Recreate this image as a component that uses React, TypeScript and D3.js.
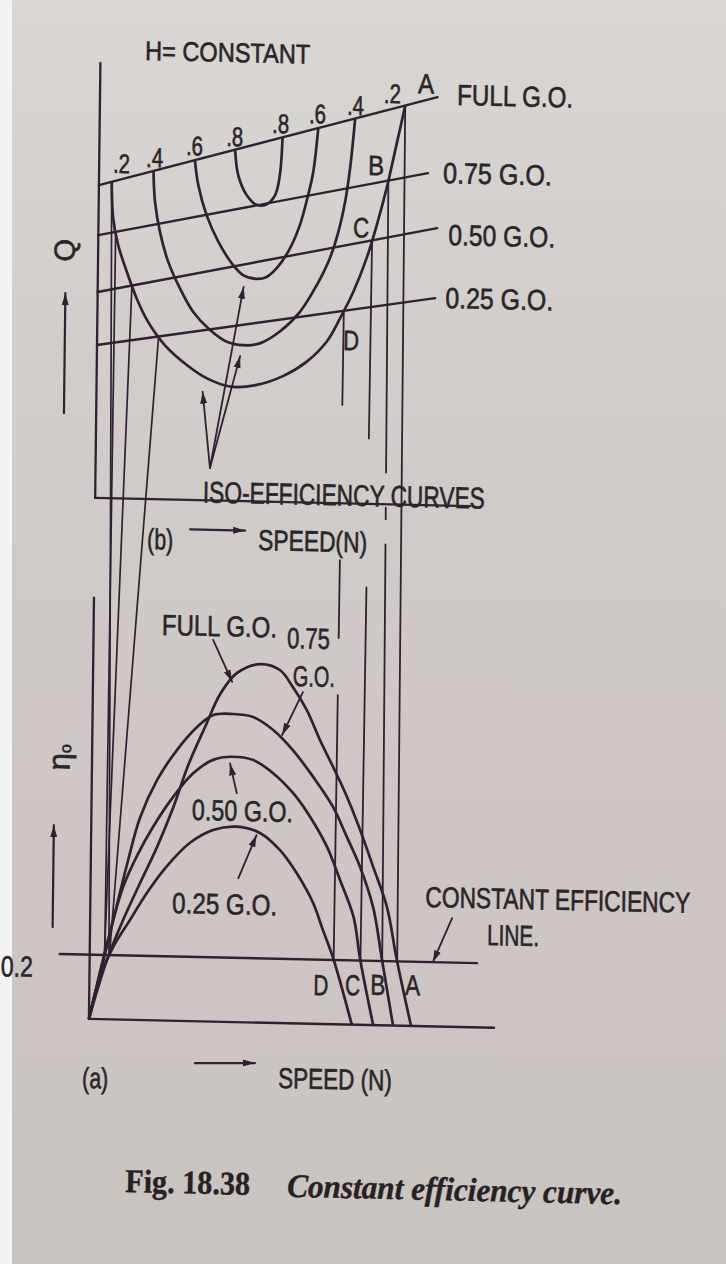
import React, { useEffect, useRef } from "react";
import * as d3 from "d3";

const W = 726;
const H = 1264;

// Lines of constant gate opening in the discharge–speed plane (Q rises with N)
const gateLabels = ["FULL G.O.", "0.75 G.O.", "0.50 G.O.", "0.25 G.O."];
const gateQStart = [7.14, 6.0, 4.7, 3.49];
const gateQEnd = [9.32, 7.58, 6.33, 4.73];
const gateNEnd = [9.0, 8.77, 9.03, 9.0];

// Iso-efficiency curves (speed N, discharge Q) at H = constant
const isoEfficiency = [0.2, 0.4, 0.6, 0.8];
const isoN = [
  [0.34, 0.39, 0.53, 0.77, 1.04, 1.35, 1.8, 2.4, 2.93, 3.56, 4.27, 4.98, 5.59, 6.12, 6.47, 6.82, 7.16, 7.42, 7.67, 7.88, 8.05, 8.14],
  [1.45, 1.5, 1.64, 1.87, 2.19, 2.55, 3.01, 3.46, 3.9, 4.34, 4.87, 5.4, 5.84, 6.18, 6.4, 6.57, 6.69, 6.81],
  [2.55, 2.65, 2.88, 3.2, 3.57, 3.87, 4.24, 4.5, 4.8, 5.11, 5.37, 5.58, 5.71, 5.83],
  [3.62, 3.71, 3.94, 4.21, 4.48, 4.7, 4.82, 4.88],
];
const isoQ = [
  [7.22, 6.39, 5.79, 5.18, 4.58, 4.05, 3.53, 3.08, 2.79, 2.61, 2.66, 2.88, 3.21, 3.68, 4.22, 4.84, 5.61, 6.37, 7.21, 8.05, 8.74, 9.11],
  [7.49, 6.79, 6.11, 5.43, 4.83, 4.3, 3.89, 3.63, 3.56, 3.61, 3.89, 4.35, 4.97, 5.59, 6.2, 6.89, 7.65, 8.79],
  [7.76, 7.19, 6.51, 5.91, 5.42, 5.16, 5.08, 5.13, 5.37, 5.79, 6.33, 7.02, 7.55, 8.55],
  [8.02, 7.44, 6.99, 6.77, 6.79, 7.0, 7.46, 8.32],
];

// Overall efficiency against speed for each gate opening (FULL, 0.75, 0.50, 0.25)
const etaN = [
  [0, 0.46, 0.88, 1.32, 1.76, 2.17, 2.58, 3.0, 3.4, 3.84, 4.45, 4.98, 5.33, 5.71, 6.07, 6.43, 6.81, 7.17, 7.53, 7.91, 8.18, 8.59],
  [0, 0.5, 0.95, 1.3, 1.74, 2.26, 2.79, 3.21, 3.74, 4.28, 4.82, 5.35, 5.9, 6.44, 6.82, 7.18, 7.54, 7.8, 8.11],
  [0, 0.53, 0.87, 1.22, 1.65, 2.18, 2.7, 3.23, 3.72, 4.3, 4.84, 5.38, 5.83, 6.29, 6.65, 7.02, 7.21, 7.58],
  [0, 0.28, 0.62, 1.06, 1.5, 2.02, 2.63, 3.25, 3.87, 4.5, 5.04, 5.49, 5.94, 6.21, 6.48, 7.01],
];
const etaValues = [
  [0, 0.184, 0.31, 0.426, 0.539, 0.66, 0.8, 0.915, 1.02, 1.086, 1.115, 1.098, 1.046, 0.975, 0.883, 0.8, 0.708, 0.606, 0.492, 0.368, 0.21, 0],
  [0, 0.25, 0.475, 0.63, 0.747, 0.842, 0.915, 0.953, 0.958, 0.95, 0.911, 0.85, 0.768, 0.676, 0.583, 0.491, 0.367, 0.2, 0],
  [0, 0.27, 0.413, 0.508, 0.602, 0.697, 0.771, 0.814, 0.825, 0.816, 0.776, 0.715, 0.644, 0.552, 0.449, 0.336, 0.205, 0],
  [0, 0.132, 0.225, 0.31, 0.395, 0.479, 0.554, 0.596, 0.608, 0.59, 0.538, 0.468, 0.376, 0.292, 0.21, 0],
];

const constantEfficiency = 0.2;
const pointLetters = ["A", "B", "C", "D"];

const INK = "#2f2130";
const TEXT = "#2a2527";
const SANS = "'Liberation Sans Narrow', 'Liberation Sans', Arial, sans-serif";
const SERIF = "'Liberation Serif', 'DejaVu Serif', serif";

type Sel = d3.Selection<any, unknown, null, undefined>;

type TextOpts = {
  size?: number;
  len?: number;
  anchor?: string;
  rotate?: number;
  weight?: number;
  italic?: boolean;
  family?: string;
  fill?: string;
  stroke?: number;
};

// Text squeezed horizontally to a set width about its anchor point
function addText(parent: Sel, str: string, px: number, py: number, o: TextOpts = {}) {
  const t = parent
    .append("text")
    .attr("x", px)
    .attr("y", py)
    .attr("font-family", o.family ?? SANS)
    .attr("font-size", o.size ?? 30)
    .attr("fill", o.fill ?? TEXT)
    .attr("text-anchor", o.anchor ?? "start")
    .text(str);
  const sw = o.stroke ?? 0.6;
  if (sw > 0) t.attr("stroke", o.fill ?? TEXT).attr("stroke-width", sw);
  if (o.weight) t.attr("font-weight", o.weight);
  if (o.italic) t.attr("font-style", "italic");
  let tf = o.rotate ? `rotate(${o.rotate},${px},${py}) ` : "";
  if (o.len) {
    const natural = (t.node() as SVGTextElement).getComputedTextLength();
    if (natural > 0) {
      const s = o.len / natural;
      tf += `translate(${px},${py}) scale(${s},1) translate(${-px},${-py})`;
    }
  }
  if (tf) t.attr("transform", tf.trim());
  return t;
}

// N values where a sampled curve meets f(N); tol catches end points lying on the line
function crossings(ns: number[], vs: number[], f: (n: number) => number, tol: number) {
  const out: number[] = [];
  const d = ns.map((n, i) => vs[i] - f(n));
  for (let i = 0; i < ns.length; i++) {
    if (Math.abs(d[i]) < tol) {
      out.push(ns[i]);
      continue;
    }
    if (i + 1 < ns.length && Math.abs(d[i + 1]) >= tol && d[i] * d[i + 1] < 0) {
      const t = d[i] / (d[i] - d[i + 1]);
      out.push(ns[i] + t * (ns[i + 1] - ns[i]));
    }
  }
  return out;
}

export default function App() {
  const ref = useRef<SVGSVGElement>(null);

  useEffect(() => {
    const svg = d3.select(ref.current) as unknown as Sel;
    svg.selectAll("*").remove();

    const defs = svg.append("defs");
    const grad = defs
      .append("linearGradient")
      .attr("id", "paper")
      .attr("x1", 0)
      .attr("y1", 0)
      .attr("x2", 0)
      .attr("y2", 1);
    [
      ["0%", "#d9d6d3"],
      ["35%", "#d1cbca"],
      ["70%", "#cdc6c5"],
      ["100%", "#cac4c0"],
    ].forEach(([o, c]) => grad.append("stop").attr("offset", o).attr("stop-color", c));

    defs
      .append("marker")
      .attr("id", "head")
      .attr("viewBox", "0 -4 12 8")
      .attr("refX", 12)
      .attr("refY", 0)
      .attr("markerWidth", 12)
      .attr("markerHeight", 8)
      .attr("markerUnits", "userSpaceOnUse")
      .attr("orient", "auto")
      .append("path")
      .attr("d", "M0,-3.5L12,0L0,3.5Z")
      .attr("fill", INK);

    svg.append("rect").attr("width", W).attr("height", H).attr("fill", "url(#paper)");
    svg.append("rect").attr("width", 12).attr("height", H).attr("fill", "#f3f3f3");

    // Speed is shared by both panels; discharge above, efficiency below
    const x = d3.scaleLinear().domain([0, 10]).range([94, 469]);
    const yQ = d3.scaleLinear().domain([0, 10]).range([502, 64]);
    const yEta = d3.scaleLinear().domain([0, 1]).range([1023, 701.5]);

    // the printed page sits slightly askew
    const g = svg
      .append("g")
      .attr("transform", "translate(280,600) matrix(1,0.022,-0.012,1,0,0) translate(-280,-600)");

    const seg = (x1: number, y1: number, x2: number, y2: number, w: number) =>
      g
        .append("line")
        .attr("x1", x1)
        .attr("y1", y1)
        .attr("x2", x2)
        .attr("y2", y2)
        .attr("stroke", INK)
        .attr("stroke-width", w)
        .attr("stroke-linecap", "round");

    const arrow = (x1: number, y1: number, x2: number, y2: number, w = 1.8) =>
      seg(x1, y1, x2, y2, w).attr("marker-end", "url(#head)");

    const gateQ = (i: number) => (n: number) => gateQStart[i] + ((gateQEnd[i] - gateQStart[i]) * n) / gateNEnd[i];

    // ---- projection lines between the two panels ----
    const rightSpans = [
      [[0, 1]],
      [[0, 0.374], [0.419, 0.434], [0.466, 1]],
      [[0, 0.275], [0.482, 1]],
      [[0, 0.145], [0.384, 0.504], [0.592, 1]],
    ];
    gateLabels.forEach((_, i) => {
      const top = crossings(isoN[0], isoQ[0], gateQ(i), 0.06);
      const bot = crossings(etaN[i], etaValues[i], () => constantEfficiency, 0.004);
      const fq = gateQ(i);
      // left-hand crossings
      seg(x(top[0]), yQ(fq(top[0])), x(bot[0]), yEta(constantEfficiency), 1.7);
      // right-hand crossings (A, B, C, D)
      const tN = top[top.length - 1];
      const bN = bot[bot.length - 1];
      const r0: [number, number] = [x(tN), yQ(fq(tN))];
      const r1: [number, number] = [x(bN), yEta(constantEfficiency)];
      rightSpans[i].forEach(([a, b]) => {
        seg(
          r0[0] + (r1[0] - r0[0]) * a,
          r0[1] + (r1[1] - r0[1]) * a,
          r0[0] + (r1[0] - r0[0]) * b,
          r0[1] + (r1[1] - r0[1]) * b,
          1.8
        );
      });
    });

    // ---- (b) discharge against speed ----
    seg(x(0), yQ(0), x(0), yQ(9.93), 2.3);
    seg(x(0), yQ(0), x(10), yQ(0), 2.3);

    gateLabels.forEach((_, i) => {
      seg(x(0), yQ(gateQStart[i]), x(gateNEnd[i]), yQ(gateQEnd[i]), 2.4);
    });

    const lineQ = d3
      .line<[number, number]>()
      .x((d) => x(d[0]))
      .y((d) => yQ(d[1]))
      .curve(d3.curveCatmullRom.alpha(0.5));
    isoEfficiency.forEach((_, i) => {
      const pts = isoN[i].map((n, j) => [n, isoQ[i][j]] as [number, number]);
      g.append("path").attr("d", lineQ(pts)).attr("fill", "none").attr("stroke", INK).attr("stroke-width", 2.7);
    });

    // ---- (a) efficiency against speed ----
    seg(x(0), yEta(0), x(0), yEta(1.31), 2.3);
    seg(x(0), yEta(0), x(10.8), yEta(0), 2.4);
    seg(x(-0.8), yEta(constantEfficiency), x(10.33), yEta(constantEfficiency), 2.4);

    const lineEta = d3
      .line<[number, number]>()
      .x((d) => x(d[0]))
      .y((d) => yEta(d[1]))
      .curve(d3.curveCatmullRom.alpha(0.5));
    etaN.forEach((ns, i) => {
      const pts = ns.map((n, j) => [n, etaValues[i][j]] as [number, number]);
      g.append("path").attr("d", lineEta(pts)).attr("fill", "none").attr("stroke", INK).attr("stroke-width", 2.7);
    });

    // ---- annotations, top panel ----
    addText(g, "H= CONSTANT", x(1.19), yQ(10.02), { size: 27, len: 165 });

    const isoLabelN = [0.37, 1.25, 2.31, 3.38, 4.6, 5.58, 6.59, 7.57];
    const isoLabelQ = [7.43, 7.58, 7.87, 8.1, 8.42, 8.66, 8.87, 9.16];
    const isoOrder = [0, 1, 2, 3, 3, 2, 1, 0];
    isoOrder.forEach((k, j) => {
      addText(g, `.${Math.round(isoEfficiency[k] * 10)}`, x(isoLabelN[j]), yQ(isoLabelQ[j]), { size: 27, len: 17 });
    });

    const gateLabelN = [9.52, 9.17, 9.33, 9.27];
    const gateLabelQ = [9.15, 7.36, 5.95, 4.51];
    const gateLabelLen = [116, 109, 107, 108];
    gateLabels.forEach((s, i) => addText(g, s, x(gateLabelN[i]), yQ(gateLabelQ[i]), { size: 29, len: gateLabelLen[i] }));

    const topLetterN = [8.48, 7.17, 6.79, 6.56];
    const topLetterQ = [9.4, 7.51, 6.08, 3.5];
    pointLetters.forEach((s, i) => addText(g, s, x(topLetterN[i]), yQ(topLetterQ[i]), { size: 28, len: 16 }));

    addText(g, "ISO-EFFICIENCY CURVES", x(2.87), yQ(-0.05), { size: 30, len: 282 });
    const isoTail: [number, number] = [3.05, 0.74];
    const isoTips: [number, number][] = [
      [2.83, 2.48],
      [3.82, 3.31],
      [3.89, 4.89],
    ];
    isoTips.forEach(([n, q]) => arrow(x(isoTail[0]), yQ(isoTail[1]), x(n), yQ(q)));

    addText(g, "(b)", x(1.4), yQ(-1.14), { size: 29, len: 26 });
    arrow(x(2.54), yQ(-0.67), x(4.01), yQ(-0.67), 2.2);
    addText(g, "SPEED(N)", x(4.36), yQ(-1.11), { size: 29, len: 109 });

    addText(g, "Q", x(-0.89), yQ(5.64), { size: 29, anchor: "middle", rotate: -90 }).attr("dominant-baseline", "central");
    arrow(x(-0.86), yQ(1.92), x(-0.86), yQ(4.66), 2.2);

    // ---- annotations, bottom panel ----
    addText(g, "FULL G.O.", x(1.82), yEta(1.199), { size: 29, len: 115 });
    arrow(x(3.19), yEta(1.187), x(3.71), yEta(1.058));
    addText(g, "0.75", x(5.16), yEta(1.167), { size: 29, len: 43 });
    addText(g, "G.O.", x(5.33), yEta(1.049), { size: 29, len: 42 });
    arrow(x(5.6), yEta(1.031), x(5.06), yEta(0.896));
    addText(g, "0.50 G.O.", x(2.68), yEta(0.626), { size: 29, len: 101 });
    arrow(x(3.87), yEta(0.712), x(3.68), yEta(0.804));
    addText(g, "0.25 G.O.", x(2.18), yEta(0.335), { size: 29, len: 105 });
    arrow(x(3.94), yEta(0.448), x(4.41), yEta(0.583));

    addText(g, "CONSTANT EFFICIENCY", x(8.93), yEta(0.371), { size: 29, len: 265 });
    addText(g, "LINE.", x(10.59), yEta(0.257), { size: 29, len: 52 });
    arrow(x(9.65), yEta(0.338), x(9.15), yEta(constantEfficiency));

    addText(g, String(constantEfficiency), x(-1.51), yEta(0.127), { size: 29, len: 32, anchor: "end" });

    const botLetterN = [8.42, 7.49, 6.82, 5.97];
    const botLetterEta = [0.096, 0.094, 0.092, 0.09];
    pointLetters.forEach((s, i) => addText(g, s, x(botLetterN[i]), yEta(botLetterEta[i]), { size: 29, len: 15 }));

    addText(g, "(a)", x(-0.16), yEta(-0.215), { size: 29, len: 26 });
    arrow(x(2.84), yEta(-0.13), x(4.44), yEta(-0.126), 2.2);
    addText(g, "SPEED (N)", x(5.06), yEta(-0.202), { size: 29, len: 114 });

    const etaLabel = addText(g, "η", x(-0.88), yEta(0.812), { size: 31, anchor: "middle", rotate: -90 }).attr(
      "dominant-baseline",
      "central"
    );
    etaLabel.append("tspan").attr("font-size", 16).attr("dy", 6).text("o");
    arrow(x(-0.997), yEta(0.283), x(-0.997), yEta(0.6), 2.2);

    // ---- caption ----
    const cap = svg.append("g").attr("transform", "rotate(1.3,125,1192)");
    addText(cap, "Fig. 18.38", 125, 1192, { family: SERIF, size: 33, weight: 700, len: 125, fill: "#282124", stroke: 0.4 });
    addText(cap, "Constant efficiency curve.", 287, 1193, {
      family: SERIF,
      size: 33,
      weight: 700,
      italic: true,
      len: 335,
      fill: "#282124",
      stroke: 0.4,
    });
  }, []);

  return (
    <svg
      ref={ref}
      width={W}
      height={H}
      style={{ position: "absolute", left: 0, top: 0, display: "block" }}
    />
  );
}
